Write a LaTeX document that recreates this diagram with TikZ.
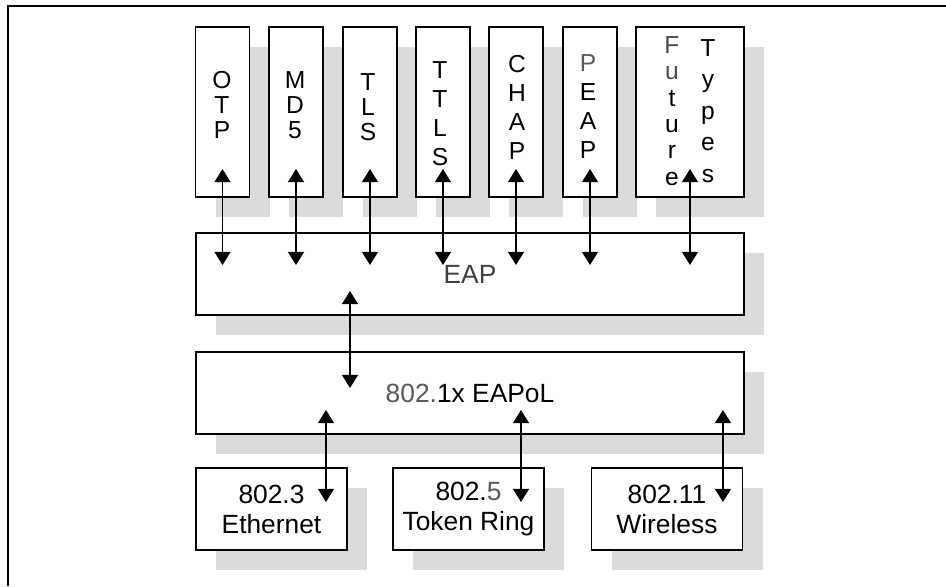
\documentclass[tikz,border=0pt]{standalone}
\usepackage{fontspec}
\setmainfont{Liberation Sans}
\usetikzlibrary{arrows.meta,shadows}

\begin{document}
\begin{tikzpicture}[
  x=0.2mm, y=-0.2mm,
  every node/.style={font=\fontsize{15}{17}\selectfont},
  box/.style={draw, line width=1.1pt, fill=white, inner sep=0pt,
    drop shadow={shadow xshift=4mm, shadow yshift=-4mm, fill=black!14, opacity=1}},
  proto/.style={box, minimum width=10.8mm, minimum height=34mm},
  layer/.style={box, minimum width=109.6mm, minimum height=16.4mm},
  phy/.style={box, minimum width=30.2mm, minimum height=16.4mm, align=center},
  letters/.style={align=center, inner sep=0pt},
  link/.style={>={Triangle[width=9pt,length=7.5pt]}, <->, line width=1.1pt}
]
  \useasboundingbox (0,0) rectangle (946,586);

  % Рамка
  \draw[line width=0.6pt] (8,586) -- (8,6) -- (946,6);

  % Методы аутентификации
  \node[proto] (otp)  at (222.5,112) {};
  \node[proto] (md5)  at (296,112) {};
  \node[proto] (tls)  at (370,112) {};
  \node[proto] (ttls) at (443,112) {};
  \node[proto] (chap) at (516,112) {};
  \node[proto] (peap) at (590,112) {};
  \node[proto, minimum width=21.6mm] (fut) at (690,112) {};

  % Подписи методов
  \node[letters, font=\fontsize{14}{14.2}\selectfont] (otpL)  at (222,105) {O\\T\\P};
  \node[letters, font=\fontsize{14}{14.2}\selectfont] (md5L)  at (295,105) {M\\D\\5};
  \node[letters, font=\fontsize{14}{14.2}\selectfont] (tlsL)  at (368,107) {T\\L\\S};
  \node[letters, font=\fontsize{14}{16.5}\selectfont] (ttlsL) at (440,114) {T\\T\\L\\S};
  \node[letters, font=\fontsize{14}{16.5}\selectfont] (chapL) at (517,107) {C\\H\\A\\P};
  \node[letters, font=\fontsize{14}{16.5}\selectfont] (peapL) at (588,107)
    {{\color{black!65}P}\\E\\A\\P};
  \node[letters, font=\fontsize{14}{15}\selectfont] (futL) at (672,111)
    {{\color{black!70}F}\\{\color{black!70}u}\\t\\u\\r\\e};
  \node[letters, font=\fontsize{14}{17.9}\selectfont] (typL) at (708,111) {T\\y\\p\\e\\s};

  % Уровни
  \node[layer] (eap)   at (470,274) {\color{black!75}EAP};
  \node[layer] (eapol) at (470,393) {{\color{black!65}802.}1x EAPoL};

  % Среды передачи
  \node[phy] (eth) at (271.5,509) {802.3\\Ethernet};
  \node[phy] (tr)  at (468.5,509) {802.{\color{black!65}5}\\Token Ring};
  \node[phy] (wl)  at (667,509)   {802.11\\Wireless};

  % Связи методов с EAP
  \foreach \p in {otp,md5,tls,ttls,chap,peap,fut}
    \draw[link] ([yshift=5.8mm]\p.south) -- ([yshift=-6.6mm]\p.south |- eap.north);

  % EAP и EAPoL
  \draw[link] ([xshift=-24mm,yshift=5mm]eap.south)
    -- ([xshift=-24mm,yshift=-7.4mm]eapol.north);

  % EAPoL и среды
  \foreach \b/\dx in {eth/10.9mm, tr/10.5mm, wl/11.2mm}
    \draw[link] ([xshift=\dx,yshift=5mm]\b.north |- eapol.south)
      -- ([xshift=\dx,yshift=-7mm]\b.north);
\end{tikzpicture}
\end{document}
